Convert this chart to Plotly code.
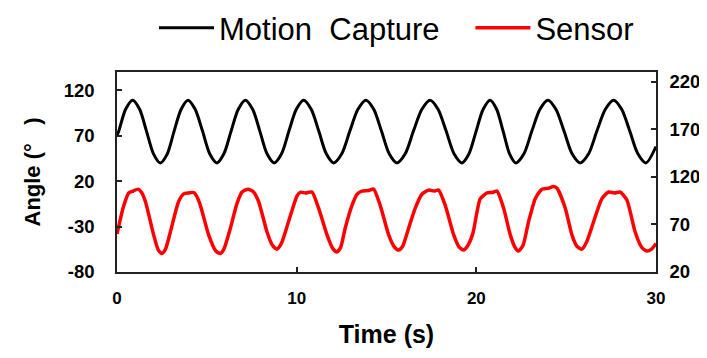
import plotly.graph_objects as go

# Motion capture (left axis)
mc_time = [0, 0.1, 0.48, 0.87, 1.26, 1.64, 2.03, 2.41, 2.8, 3.18, 3.57, 3.95,
           4.35, 4.76, 5.16, 5.56, 5.95, 6.35, 6.75, 7.14, 7.55, 7.95, 8.35, 8.75,
           9.16, 9.57, 9.98, 10.39, 10.81, 11.23, 11.65, 12.06, 12.51, 12.96,
           13.41, 13.86, 14.29, 14.72, 15.15, 15.58, 16.04, 16.5, 16.97, 17.43,
           17.87, 18.32, 18.76, 19.2, 19.59, 19.99, 20.38, 20.77, 21.13, 21.49,
           21.85, 22.2, 22.65, 23.09, 23.54, 23.98, 24.43, 24.88, 25.33, 25.78,
           26.25, 26.71, 27.18, 27.64, 28.09, 28.54, 28.99, 29.44, 30]
mc_angle = [70, 75, 99, 109, 99, 75, 50, 40, 50, 75, 99, 109,
            99, 75, 50, 40, 50, 75, 99, 109, 99, 75, 50, 40,
            50, 75, 99, 109, 99, 75, 50, 40, 50, 75,
            99, 109, 99, 75, 50, 40, 50, 75, 99, 109,
            99, 75, 50, 40, 50, 75, 99, 109, 99, 75,
            50, 40, 50, 75, 99, 109, 99, 75, 50, 40,
            50, 75, 99, 109, 99, 75, 50, 40, 58]

# Sensor (right axis)
sensor_time = [0, 0.35, 0.65, 0.9, 1.17, 1.35, 1.58, 2.04, 2.3, 2.5, 2.7, 2.97,
               3.43, 3.71, 4.0, 4.27, 4.45, 4.64, 5.1, 5.5, 5.75, 5.95, 6.31,
               6.68, 6.96, 7.3, 7.6, 7.88, 8.35, 8.65, 8.9, 9.15, 9.55, 10.02,
               10.2, 10.5, 10.85, 11.22, 11.69, 12.0, 12.24, 12.45, 12.7, 13.08,
               13.36, 13.63, 14.0, 14.28, 14.65, 15.12, 15.45, 15.68, 15.9, 16.23,
               16.6, 16.97, 17.35, 17.65, 17.9, 18.27, 18.74, 19.05, 19.29, 19.5,
               19.8, 20.22, 20.6, 20.9, 21.15, 21.52, 21.89, 22.15, 22.35, 22.6,
               22.91, 23.28, 23.65, 24.0, 24.3, 24.49, 24.95, 25.32, 25.6, 25.88,
               26.15, 26.53, 26.99, 27.36, 27.7, 28.0, 28.38, 28.84, 29.2, 29.49,
               29.75, 30]
sensor_angle = [60, 88, 103, 105, 107, 104, 94, 59, 43, 39.5, 44, 62,
                94, 102, 103, 103.5, 99, 90, 59, 42, 39.5, 44, 66,
                92, 104, 107, 104, 94, 62, 48, 44, 50, 73, 100,
                103.7, 103, 104, 87, 59, 45, 41, 46, 66, 90,
                101.6, 105, 105.5, 107, 90, 59, 46, 43, 47, 66,
                87, 101.6, 106, 105, 106, 90, 59, 46, 43, 47,
                60, 97, 103, 103.5, 105, 87, 59, 46, 42, 48,
                73, 97, 107, 108, 109.7, 108, 87, 59, 47, 44,
                52, 73, 97, 104, 103, 104, 95.6, 62, 46, 42,
                44, 50]

x_ticks = [0, 10, 20, 30]
left_ticks = [-80, -30, 20, 70, 120]
right_ticks = [20, 70, 120, 170, 220]
left_tick_labels = ["-80", "-30", "20", "70", "120"]
right_tick_labels = ["20", "70", "120", "170", "220"]

FONT = "Liberation Sans, Arial, sans-serif"

fig = go.Figure()
fig.add_trace(go.Scatter(x=mc_time, y=mc_angle, mode="lines",
                         name="Motion\u00a0 Capture\u00a0\u00a0\u00a0",
                         line=dict(color="black", width=3, shape="spline", smoothing=0.8),
                         yaxis="y"))
fig.add_trace(go.Scatter(x=sensor_time, y=sensor_angle, mode="lines", name="Sensor",
                         line=dict(color="#FF0000", width=3.5, shape="spline", smoothing=0.6),
                         yaxis="y2"))

axis_common = dict(showline=True, linecolor="#222222", linewidth=1.5, ticks="inside",
                   ticklen=5, tickwidth=1.5, tickcolor="#222222", showgrid=False,
                   zeroline=False)
yfont = dict(family=FONT, size=18.5, color="black", weight="bold")
xfont = dict(family=FONT, size=17, color="black", weight="bold")

fig.update_layout(
    width=699, height=350,
    margin=dict(l=109, r=51, t=64, b=86, autoexpand=False),
    paper_bgcolor="white", plot_bgcolor="white",
    font=dict(family=FONT, color="black"),
    xaxis=dict(range=[0, 30], tickvals=x_ticks, mirror=True, automargin=False,
               tickfont=xfont,
               title=dict(text="\u00a0\u00a0Time (s)", font=dict(family=FONT, size=25, weight="bold"),
                          standoff=18),
               ticklabelstandoff=10, **axis_common),
    yaxis=dict(range=[-80, 140], tickvals=left_ticks, ticktext=left_tick_labels,
               automargin=False, tickfont=yfont,
               title=dict(text="Angle (°\u00a0\u00a0\u00a0)",
                          font=dict(family=FONT, size=22, weight="bold"),
                          standoff=17),
               ticklabelstandoff=17, **axis_common),
    yaxis2=dict(range=[20, 230], tickvals=right_ticks, ticktext=right_tick_labels,
                overlaying="y", side="right", tickfont=yfont,
                automargin=False, ticklabelstandoff=8, **axis_common),
    legend=dict(orientation="h", x=(146 - 109) / 539, xanchor="left", y=1.22, yanchor="middle",
                font=dict(family=FONT, size=31, color="black"),
                bgcolor="rgba(0,0,0,0)", itemwidth=55),
    showlegend=True,
)

fig.write_html("out.html")
